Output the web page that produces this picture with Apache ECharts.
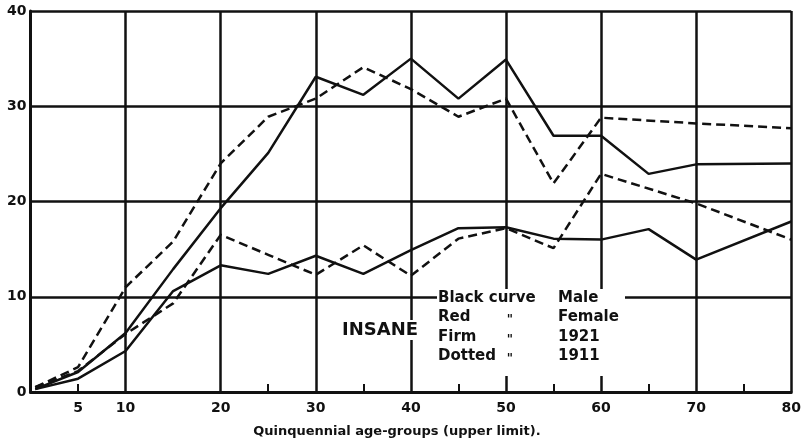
<!DOCTYPE html>
<html>
<head>
<meta charset="utf-8">
<script src="https://cdn.jsdelivr.net/npm/echarts@6/dist/echarts.min.js"></script>
<style>
  html, body { margin: 0; padding: 0; background: #fff; }
  #chart { width: 804px; height: 443px; }
</style>
</head>
<body>
<div id="chart"></div>
<script>
// Ages (upper limit of quinquennial age-groups)
const ages = [0.5, 5, 10, 15, 20, 25, 30, 35, 40, 45, 50, 55, 60, 65, 70, 80];
// Insane
const male1921   = [0.3, 2.1, 6.2, 12.9, 19.3, 25.1, 33.1, 31.2, 35.0, 30.8, 34.9, 26.9, 26.9, 22.9, 23.9, 24.0];
const male1911   = [0.5, 2.6, 11.0, 15.8, 24.0, 28.9, 30.8, 34.1, 31.8, 28.9, 30.8, 21.9, 28.8, null, 28.2, 27.7];
const female1921 = [0.3, 1.4, 4.3, 10.6, 13.3, 12.4, 14.3, 12.4, 14.9, 17.2, 17.3, 16.1, 16.0, 17.1, 13.9, 17.9];
const female1911 = [0.5, 2.2, 6.1, 9.3, 16.5, 14.4, 12.3, 15.4, 12.2, 16.1, 17.2, 15.1, 22.9, null, 19.8, 16.0];

const xLabelValues = [5, 10, 20, 30, 40, 50, 60, 70, 80];
const xTickValues = [5, 25, 35, 45, 55, 65, 75];

const axisTitle = 'Quinquennial age-groups (upper limit).';
const chartLabel = 'INSANE';
const legendRows = [
  ['Black curve', '', 'Male'],
  ['Red', '"', 'Female'],
  ['Firm', '"', '1921'],
  ['Dotted', '"', '1911']
];

function pairs(vals) {
  return ages.map((a, i) => [a, vals[i]]);
}

const FONT = 'DejaVu Sans';
const INK = '#111';

const chart = echarts.init(document.getElementById('chart'), null, { renderer: 'canvas' });

function mkSeries(name, vals, dashed) {
  return {
    name: name,
    type: 'line',
    xAxisIndex: 0,
    yAxisIndex: 0,
    data: pairs(vals),
    connectNulls: true,
    smooth: false,
    symbol: 'none',
    z: 3,
    lineStyle: { color: INK, width: 2.5, type: dashed ? [9, 5] : 'solid' }
  };
}

const legendGraphics = [];
legendGraphics.push({
  type: 'rect', z: 50,
  shape: { x: 437, y: 289, width: 188, height: 87 },
  style: { fill: '#fff' }
});
const rowY = [298, 317, 337, 356];
legendRows.forEach((row, i) => {
  legendGraphics.push({ type: 'text', z: 51, style: { x: 438, y: rowY[i], text: row[0], fill: INK, font: 'bold 15px "' + FONT + '"', textAlign: 'left', textVerticalAlign: 'middle' } });
  if (row[1]) legendGraphics.push({ type: 'text', z: 51, style: { x: 510, y: rowY[i] + 3, text: row[1], fill: INK, font: 'bold 12px "' + FONT + '"', textAlign: 'center', textVerticalAlign: 'middle' } });
  legendGraphics.push({ type: 'text', z: 51, style: { x: 558, y: rowY[i], text: row[2], fill: INK, font: 'bold 15px "' + FONT + '"', textAlign: 'left', textVerticalAlign: 'middle' } });
});
legendGraphics.push({
  type: 'text', z: 51,
  style: { x: 380, y: 330, text: chartLabel, fill: INK, font: 'bold 18px "' + FONT + '"', textAlign: 'center', textVerticalAlign: 'middle', backgroundColor: '#fff', padding: [1, 1] }
});

const option = {
  animation: false,
  backgroundColor: '#fff',
  grid: { left: 30.5, right: 8, top: 11, bottom: 51, containLabel: false },
  xAxis: [{
    type: 'value', min: 0, max: 80, interval: 10,
    name: axisTitle, nameLocation: 'middle', nameGap: 33,
    nameTextStyle: { color: INK, fontFamily: FONT, fontWeight: 'bold', fontSize: 13, padding: [0, 28, 0, 0] },
    axisLine: { show: true, lineStyle: { color: INK, width: 3 } },
    axisTick: { show: true, inside: true, length: 8, customValues: xTickValues, lineStyle: { color: INK, width: 2 } },
    axisLabel: { show: true, customValues: xLabelValues, margin: 9, color: INK, fontFamily: FONT, fontWeight: 'bold', fontSize: 14 },
    splitLine: { show: false }
  }, {
    type: 'value', min: 0, max: 80, interval: 10, position: 'bottom',
    axisLine: { show: false },
    axisTick: { show: false },
    axisLabel: { show: false },
    splitLine: { show: true, lineStyle: { color: INK, width: 2.5 } }
  }],
  yAxis: [{
    type: 'value', min: 0, max: 40, interval: 10,
    axisLine: { show: true, lineStyle: { color: INK, width: 3 } },
    axisTick: { show: false },
    axisLabel: { show: true, margin: 4, color: INK, fontFamily: FONT, fontWeight: 'bold', fontSize: 14 },
    splitLine: { show: true, lineStyle: { color: INK, width: 2.5 } }
  }],
  series: [
    mkSeries('Male 1921', male1921, false),
    mkSeries('Male 1911', male1911, true),
    mkSeries('Female 1921', female1921, false),
    mkSeries('Female 1911', female1911, true)
  ],
  graphic: legendGraphics
};

chart.setOption(option);
</script>
</body>
</html>
